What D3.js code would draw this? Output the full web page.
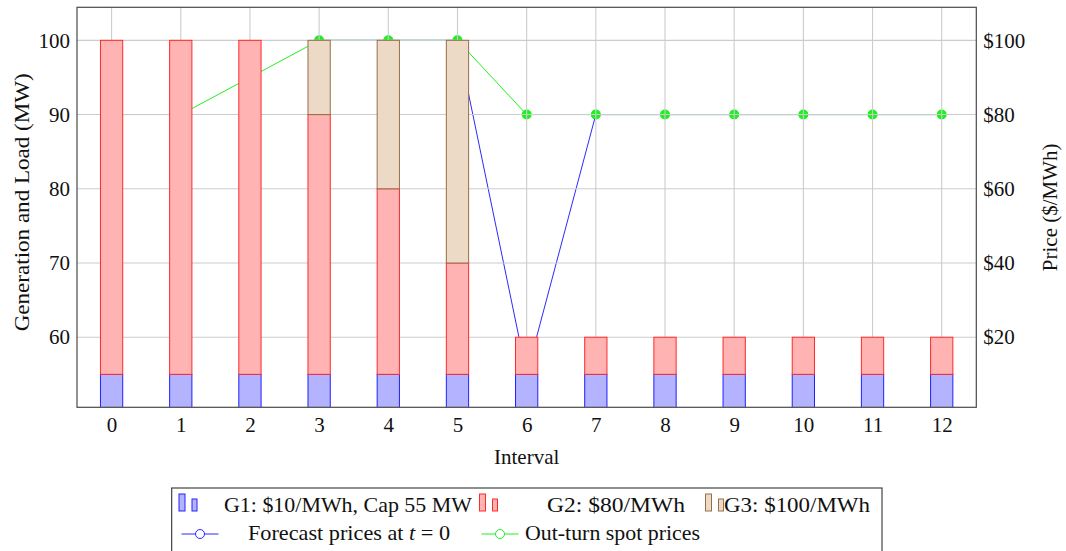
<!DOCTYPE html>
<html>
<head>
<meta charset="utf-8">
<script src="https://cdn.jsdelivr.net/npm/d3@7"></script>
<style>
  html, body { margin: 0; padding: 0; background: #fff; }
  svg { display: block; }
  text { font-family: "Liberation Serif", "Times New Roman", serif; fill: #111; }
</style>
</head>
<body>
<svg id="chart" width="1066" height="551"></svg>
<script>
// ---------- data ----------
const intervals = [0, 1, 2, 3, 4, 5, 6, 7, 8, 9, 10, 11, 12];
const g1 = [55, 55, 55, 55, 55, 55, 55, 55, 55, 55, 55, 55, 55];      // MW (stack base)
const g2 = [45, 45, 45, 35, 25, 15, 5, 5, 5, 5, 5, 5, 5];             // MW stacked on G1
const g3 = [0, 0, 0, 10, 20, 30, 0, 0, 0, 0, 0, 0, 0];                // MW stacked on G2
const forecastPrice = [null, null, null, 100, 100, 100, 10, 80, 80, 80, 80, 80, 80];
const outturnPrice  = [80, 80, 90, 100, 100, 100, 80, 80, 80, 80, 80, 80, 80];
const leftTicks = [60, 70, 80, 90, 100];
const rightTicks = [20, 40, 60, 80, 100];
const seriesNames = ["G1: $10/MWh, Cap 55 MW", "G2: $80/MWh", "G3: $100/MWh"];
const lineNames = ["Forecast prices at ", "Out-turn spot prices"];

// ---------- layout ----------
const L = 77, R = 976.3, T = 7.3, B = 407.3;
const FS = 21;
const svg = d3.select("#chart");

const x = d3.scaleLinear().domain([-0.5, 12.5]).range([L, R]);
const yL = d3.scaleLinear().domain([50.56, 104.45]).range([B, T]);
const yR = d3.scaleLinear().domain([1.13, 108.9]).range([B, T]);

const colors = {
  g1: { fill: "#b3b3ff", stroke: "#2222ff" },
  g2: { fill: "#ffb3b3", stroke: "#ff2a2a" },
  g3: { fill: "#ecd9c6", stroke: "#96704a" },
  forecast: "#2a2aff",
  outturn: "#1ff01f"
};

svg.append("defs").append("clipPath").attr("id", "plotclip")
  .append("rect").attr("x", L).attr("y", T).attr("width", R - L).attr("height", B - T);

const plot = svg.append("g").attr("clip-path", "url(#plotclip)");

// ---------- price lines (drawn first, under grid and bars) ----------
const fData = intervals.map((d, i) => ({ x: d, y: forecastPrice[i] }));
const oData = intervals.map((d, i) => ({ x: d, y: outturnPrice[i] }));
const line = d3.line().defined(d => d.y != null).x(d => x(d.x)).y(d => yR(d.y));

plot.append("path").datum(fData).attr("d", line)
  .attr("fill", "none").attr("stroke", colors.forecast).attr("stroke-width", 1);
plot.selectAll("circle.f").data(fData.filter(d => d.y != null)).enter().append("circle")
  .attr("class", "f").attr("cx", d => x(d.x)).attr("cy", d => yR(d.y)).attr("r", 4.5)
  .attr("fill", colors.forecast);

plot.append("path").datum(oData).attr("d", line)
  .attr("fill", "none").attr("stroke", colors.outturn).attr("stroke-width", 1);
plot.selectAll("circle.o").data(oData).enter().append("circle")
  .attr("class", "o").attr("cx", d => x(d.x)).attr("cy", d => yR(d.y)).attr("r", 5)
  .attr("fill", colors.outturn);

// ---------- grid (on top of lines) ----------
const grid = plot.append("g").attr("stroke", "#cccccc").attr("stroke-width", 1.1);
grid.selectAll("line.v").data(intervals).enter().append("line")
  .attr("x1", d => x(d)).attr("x2", d => x(d)).attr("y1", T).attr("y2", B);
grid.selectAll("line.h").data(leftTicks).enter().append("line")
  .attr("x1", L).attr("x2", R).attr("y1", d => yL(d)).attr("y2", d => yL(d));

// ---------- stacked bars ----------
const barW = (x(1) - x(0)) * 0.322;
const stackData = intervals.map((d, i) => ({ interval: d, g1: g1[i], g2: g2[i], g3: g3[i] }));
const stack = d3.stack().keys(["g1", "g2", "g3"])(stackData);
stack.forEach(layer => {
  const c = colors[layer.key];
  plot.append("g").selectAll("rect").data(layer).enter().append("rect")
    .attr("x", d => x(d.data.interval) - barW / 2)
    .attr("width", barW)
    .attr("y", d => yL(d[1]))
    .attr("height", d => Math.max(0, yL(layer.key === "g1" ? 0 : d[0]) - yL(d[1])))
    .attr("fill", c.fill).attr("stroke", c.stroke).attr("stroke-width", 1);
});

// ---------- axes ----------
const axL = svg.append("g").attr("transform", `translate(${L},0)`)
  .call(d3.axisLeft(yL).tickValues(leftTicks).tickSize(0).tickPadding(7));
const axR = svg.append("g").attr("transform", `translate(${R},0)`)
  .call(d3.axisRight(yR).tickValues(rightTicks).tickSize(0).tickPadding(7).tickFormat(d => "$" + d));
const axB = svg.append("g").attr("transform", `translate(0,${B})`)
  .call(d3.axisBottom(x).tickValues(intervals).tickSize(0).tickPadding(10).tickFormat(d3.format("d")));
[axL, axR, axB].forEach(a => {
  a.select(".domain").remove();
  a.selectAll("text").attr("font-size", FS).attr("font-family", "Liberation Serif").attr("fill", "#111");
});

svg.append("rect").attr("x", L).attr("y", T).attr("width", R - L).attr("height", B - T)
  .attr("fill", "none").attr("stroke", "#4a4a4a").attr("stroke-width", 1.2);

// axis titles
svg.append("text").attr("x", (L + R) / 2).attr("y", 464).attr("text-anchor", "middle")
  .attr("font-size", FS).text("Interval");
svg.append("text").attr("transform", `translate(29,${(T + B) / 2 - 5}) rotate(-90)`)
  .attr("text-anchor", "middle").attr("font-size", FS).attr("textLength", 258)
  .attr("lengthAdjust", "spacingAndGlyphs").text("Generation and Load (MW)");
svg.append("text").attr("transform", `translate(1057,${(T + B) / 2}) rotate(-90)`)
  .attr("text-anchor", "middle").attr("font-size", FS).text("Price ($/MWh)");

// ---------- legend ----------
const lg = svg.append("g");
lg.append("rect").attr("x", 171.7).attr("y", 488).attr("width", 882 - 171.7).attr("height", 80)
  .attr("fill", "#fff").attr("stroke", "#333").attr("stroke-width", 1.1);

function barIcon(x0, c) {
  lg.append("rect").attr("x", x0).attr("y", 494).attr("width", 6).attr("height", 17)
    .attr("fill", c.fill).attr("stroke", c.stroke).attr("stroke-width", 1);
  lg.append("rect").attr("x", x0 + 13).attr("y", 499).attr("width", 5).attr("height", 12)
    .attr("fill", c.fill).attr("stroke", c.stroke).attr("stroke-width", 1);
}
function lineIcon(x0, color) {
  lg.append("line").attr("x1", x0).attr("x2", x0 + 37).attr("y1", 534).attr("y2", 534)
    .attr("stroke", color).attr("stroke-width", 1);
  lg.append("circle").attr("cx", x0 + 18.5).attr("cy", 534).attr("r", 4.5)
    .attr("fill", "#fff").attr("stroke", color).attr("stroke-width", 1);
}
barIcon(179, colors.g1);
barIcon(479.5, colors.g2);
barIcon(705.5, colors.g3);
lineIcon(181.5, colors.forecast);
lineIcon(481.5, colors.outturn);

const row1 = 512, row2 = 540;
function legText(x0, y0, w, str) {
  return lg.append("text").attr("x", x0).attr("y", y0).attr("font-size", FS)
    .attr("textLength", w).attr("lengthAdjust", "spacingAndGlyphs").text(str);
}
legText(224, row1, 248, seriesNames[0]);
legText(547, row1, 138, seriesNames[1]);
legText(724, row1, 146, seriesNames[2]);
const ft = lg.append("text").attr("x", 248).attr("y", row2).attr("font-size", FS)
  .attr("textLength", 202).attr("lengthAdjust", "spacingAndGlyphs");
ft.append("tspan").text(lineNames[0]);
ft.append("tspan").attr("font-style", "italic").text("t");
ft.append("tspan").text(" = 0");
legText(525, row2, 175, lineNames[1]);
</script>
</body>
</html>
